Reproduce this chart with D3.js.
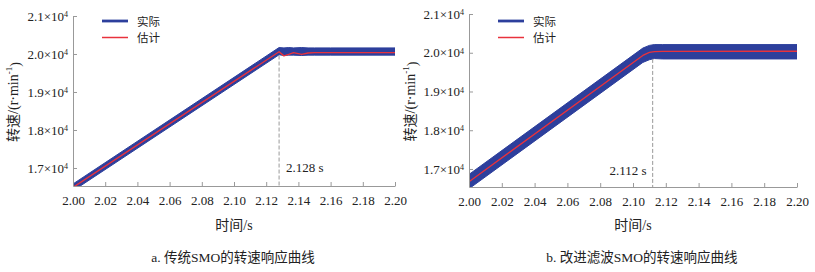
<!DOCTYPE html>
<html>
<head>
<meta charset="utf-8">
<script src="https://cdn.jsdelivr.net/npm/d3@7"></script>
<style>
  body { margin: 0; background: #fff; }
  svg { display: block; }
</style>
</head>
<body>
<main></main>
<script>
// Data
const xTicks = [2.00, 2.02, 2.04, 2.06, 2.08, 2.10, 2.12, 2.14, 2.16, 2.18, 2.20];
const yTicks = [17000, 18000, 19000, 20000, 21000];
const legendNames = ["实际", "估计"];

// panel a: traditional SMO
const timeA = [2.000, 2.128, 2.131, 2.134, 2.137, 2.142, 2.146, 2.150, 2.160, 2.200];
const estA = [16490, 20060, 19950, 19990, 20035, 19990, 20025, 20035, 20035, 20035];
const actUpperA = [16580, 20170, 20160, 20170, 20160, 20170, 20160, 20160, 20160, 20160];
const actLowerA = [16400, 19980, 19960, 19970, 19970, 19960, 19970, 19970, 19970, 19970];

// panel b: improved filter SMO
const timeB = [2.000, 2.106, 2.110, 2.113, 2.118, 2.200];
const estB = [16670, 19930, 20010, 20030, 20035, 20040];
const actUpperB = [16860, 20120, 20190, 20210, 20210, 20210];
const actLowerB = [16490, 19750, 19820, 19850, 19840, 19840];

const serif = "'Liberation Serif', 'Times New Roman', serif";
const cjk = "'Noto Sans CJK SC', sans-serif";
const mixed = "'Liberation Serif', 'Noto Sans CJK SC', serif";

const panels = [
  { time: timeA, est: estA, up: actUpperA, lo: actLowerA, mark: 2.128, markLabel: "2.128 s",
    caption: "a. 传统SMO的转速响应曲线", capX: 233,
    x0: 73, x1: 395, yTop: 16, yBot: 186, yMin: 16526, labelSide: "right", yLabelX: 13 },
  { time: timeB, est: estB, up: actUpperB, lo: actLowerB, mark: 2.112, markLabel: "2.112 s",
    caption: "b. 改进滤波SMO的转速响应曲线", capX: 642,
    x0: 469, x1: 797, yTop: 14, yBot: 187, yMin: 16535, labelSide: "left", yLabelX: 410 }
];

const width = 815;
const height = 272;
const blue = "#2d3f9c";
const red = "#e8323c";

const svg = d3.select("main")
  .append("svg")
  .attr("width", width)
  .attr("height", height);

panels.forEach((p, i) => {
  const x = d3.scaleLinear().domain([2.0, 2.2]).range([p.x0, p.x1]);
  const y = d3.scaleLinear().domain([p.yMin, 21000]).range([p.yBot, p.yTop]);

  const clipId = "clip" + i;
  svg.append("clipPath").attr("id", clipId)
    .append("rect")
    .attr("x", p.x0).attr("y", p.yTop - 10)
    .attr("width", p.x1 - p.x0).attr("height", p.yBot - p.yTop + 10);

  const g = svg.append("g").attr("clip-path", `url(#${clipId})`);

  // actual speed (noisy band)
  const band = d3.area()
    .x((d, j) => x(p.time[j]))
    .y0((d, j) => y(p.lo[j]))
    .y1((d, j) => y(p.up[j]));
  g.append("path")
    .datum(p.time)
    .attr("d", band)
    .attr("fill", blue)
    .attr("stroke", blue)
    .attr("stroke-width", 1);

  // estimated speed
  const line = d3.line()
    .x((d, j) => x(p.time[j]))
    .y(d => y(d));
  g.append("path")
    .datum(p.est)
    .attr("d", line)
    .attr("fill", "none")
    .attr("stroke", red)
    .attr("stroke-width", 1.4)
    .attr("stroke-linejoin", "round");

  // marker line
  const lowAtMark = d3.min(p.lo.filter((d, j) => p.time[j] >= p.mark));
  svg.append("line")
    .attr("x1", x(p.mark)).attr("x2", x(p.mark))
    .attr("y1", y(lowAtMark)).attr("y2", p.yBot)
    .attr("stroke", "#999")
    .attr("stroke-width", 1)
    .attr("stroke-dasharray", "4,2");
  svg.append("text")
    .attr("x", p.labelSide === "right" ? x(p.mark) + 7 : x(p.mark) - 6)
    .attr("y", p.labelSide === "right" ? 172 : 175)
    .attr("text-anchor", p.labelSide === "right" ? "start" : "end")
    .style("font-family", serif)
    .style("font-size", "13px")
    .attr("fill", "#222")
    .text(p.markLabel);

  // Axes
  const xAxis = svg.append("g")
    .attr("transform", `translate(0,${p.yBot})`)
    .call(d3.axisBottom(x).tickValues(xTicks).tickFormat(d3.format(".2f"))
      .tickSizeInner(-4).tickSizeOuter(0).tickPadding(10));
  xAxis.selectAll("text")
    .style("font-family", serif)
    .style("font-size", "13px")
    .attr("fill", "#222");

  const yAxis = svg.append("g")
    .attr("transform", `translate(${p.x0},0)`)
    .call(d3.axisLeft(y).tickValues(yTicks).tickSizeInner(-4).tickSizeOuter(0).tickPadding(5));
  yAxis.selectAll("text")
    .style("font-family", serif)
    .style("font-size", "13px")
    .attr("fill", "#222")
    .each(function (d) {
      const t = d3.select(this).text("");
      t.append("tspan").text((d / 10000).toFixed(1) + "×10");
      t.append("tspan").attr("dy", "-0.45em").style("font-size", "8px").text("4");
    });

  [xAxis, yAxis].forEach(a => {
    a.select(".domain").attr("stroke", "#999");
    a.selectAll(".tick line").attr("stroke", "#999");
  });

  // Legend
  const lx = p.x0 + 29;
  legendNames.forEach((name, k) => {
    const ly = 21 + k * 16.5;
    svg.append("line")
      .attr("x1", lx).attr("x2", lx + 26)
      .attr("y1", ly).attr("y2", ly)
      .attr("stroke", k === 0 ? blue : red)
      .attr("stroke-width", k === 0 ? 2.8 : 1.5);
    svg.append("text")
      .attr("x", lx + 35)
      .attr("y", ly + 4.5)
      .style("font-size", "11.5px")
      .style("font-family", cjk)
      .attr("fill", "#222")
      .text(name);
  });

  // Axis labels
  svg.append("text")
    .attr("x", (p.x0 + p.x1) / 2)
    .attr("y", 230)
    .attr("text-anchor", "middle")
    .style("font-family", mixed)
    .style("font-size", "14px")
    .attr("fill", "#222")
    .text("时间/s");

  const yl = svg.append("text")
    .attr("transform", `translate(${p.yLabelX},${(p.yTop + p.yBot) / 2 + 1}) rotate(-90)`)
    .attr("text-anchor", "middle")
    .attr("dominant-baseline", "central")
    .style("font-family", mixed)
    .style("font-size", "14px")
    .attr("fill", "#222");
  yl.append("tspan").text("转速/(r·min");
  yl.append("tspan").attr("dy", "-0.45em").style("font-size", "9px").text("-1");
  yl.append("tspan").attr("dy", "0.45em").text(")");

  // Caption
  svg.append("text")
    .attr("x", p.capX)
    .attr("y", 262)
    .attr("text-anchor", "middle")
    .style("font-family", mixed)
    .style("font-size", "13.5px")
    .attr("fill", "#222")
    .text(p.caption);
});
</script>
</body>
</html>
